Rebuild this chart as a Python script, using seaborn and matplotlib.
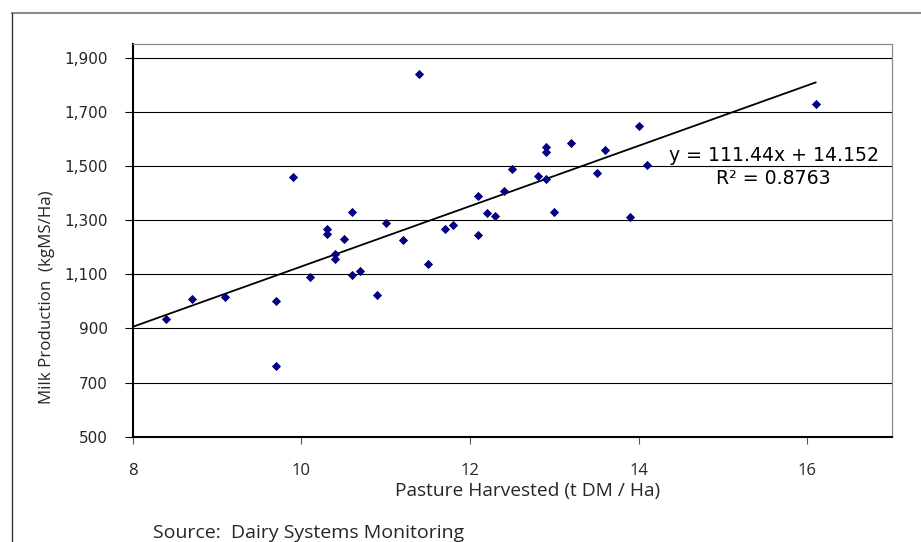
import numpy as np
import seaborn as sns
from matplotlib import pyplot as plt
from matplotlib.lines import Line2D
import pandas as pd

# Pasture harvested (t DM/Ha) vs milk production (kgMS/Ha)
pasture = [8.4, 8.7, 9.1, 9.7, 9.7, 9.9, 10.1, 10.3, 10.3, 10.5,
           10.4, 10.4, 10.6, 10.6, 10.7, 10.9, 11.0, 11.2, 11.4, 11.5,
           11.7, 11.8, 12.1, 12.1, 12.2, 12.3, 12.4, 12.5, 12.8, 12.9,
           12.9, 12.9, 13.0, 13.2, 13.5, 13.6, 13.9, 14.0, 14.1, 16.1]
milk = [935, 1010, 1015, 1000, 760, 1458, 1091, 1268, 1249, 1229,
        1173, 1156, 1331, 1096, 1110, 1022, 1290, 1225, 1839, 1139,
        1267, 1281, 1388, 1243, 1327, 1314, 1407, 1490, 1462, 1453,
        1569, 1552, 1331, 1586, 1472, 1560, 1312, 1647, 1504, 1728]

# Linear trendline as printed on the chart
slope = 111.44
intercept = 14.152
r_squared = 0.8763
trend_x = [8.0, 16.1]

x_ticks = [8, 10, 12, 14, 16]
y_ticks = [500, 700, 900, 1100, 1300, 1500, 1700, 1900]

df = pd.DataFrame({"pasture": pasture, "milk": milk})
trend = pd.DataFrame({"x": trend_x})
trend["y"] = slope * trend["x"] + intercept

sns.set_theme(style="white")
plt.rcParams["font.family"] = ["DejaVu Sans"]

fig = plt.figure(figsize=(9.21, 5.42), dpi=100)
ax = fig.add_axes([0.1441, 0.1943, 0.8241, 0.7245])

ax.set_axisbelow(True)
ax.yaxis.grid(True, color="black", linewidth=0.8)
ax.xaxis.grid(False)

sns.lineplot(data=trend, x="x", y="y", ax=ax, color="black", linewidth=1.3, zorder=2)
sns.scatterplot(data=df, x="pasture", y="milk", ax=ax, marker="D", color="#000080",
                s=22, linewidth=0, zorder=3)

ax.set_xlim(8, 17)
ax.set_ylim(500, 1950)
ax.set_xticks(x_ticks)
ax.set_xticklabels([str(t) for t in x_ticks], fontfamily="Open Sans", fontsize=12)
ax.set_yticks(y_ticks)
ax.set_yticklabels(["{:,}".format(t) for t in y_ticks], fontsize=11)
ax.tick_params(axis="y", direction="out", length=6, width=0.8, color="black", pad=12, left=True)
ax.tick_params(axis="x", direction="out", length=5, width=0.8, color="#555555", pad=14, bottom=True)
ax.set_xlabel("")
ax.set_ylabel("")

for side in ["left", "bottom"]:
    ax.spines[side].set_color("black")
    ax.spines[side].set_linewidth(1.5)
for side in ["top", "right"]:
    ax.spines[side].set_color("#8c8c8c")
    ax.spines[side].set_linewidth(0.9)

ax.text(15.6, 1497, "y = {}x + {}\nR² = {}".format(slope, intercept, r_squared),
        ha="center", va="center", fontsize=13.6, linespacing=1.25, color="black")

fig.text(0.573, 0.094, "Pasture Harvested (t DM / Ha)", ha="center", va="center",
         fontfamily="Open Sans", fontsize=13.8)
fig.text(0.051, 0.452, "Milk Production  (kgMS/Ha)", ha="center", va="center",
         rotation=90, fontfamily="Open Sans", fontsize=12.2)
fig.text(0.166, 0.008, "Source:  Dairy Systems Monitoring", ha="left", va="baseline",
         fontfamily="Open Sans", fontsize=14)

# outer chart-area frame (top and left edges)
fig.add_artist(Line2D([12 / 921, 1.0], [1 - 13 / 542] * 2, color="#8c8c8c", linewidth=1.5))
fig.add_artist(Line2D([12 / 921] * 2, [0.0, 1 - 13 / 542], color="#333333", linewidth=1.0))

fig.savefig("out.png", dpi=100)
